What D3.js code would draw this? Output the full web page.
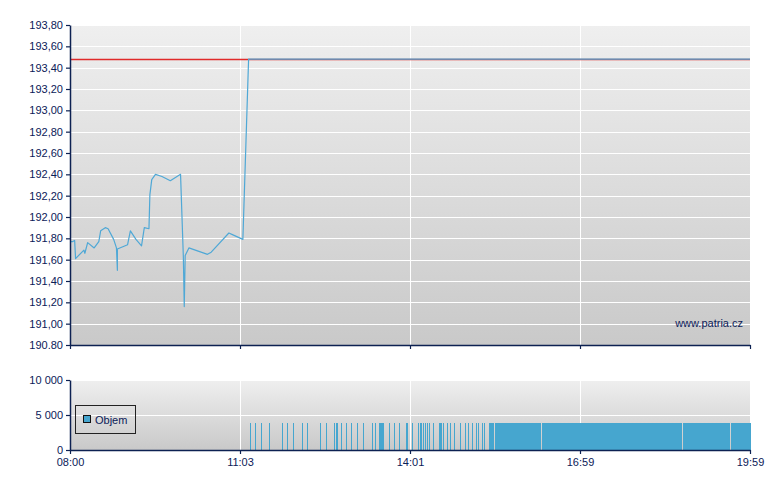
<!DOCTYPE html>
<html><head><meta charset="utf-8">
<script src="https://cdn.jsdelivr.net/npm/d3@7"></script>
<style>
body{margin:0;background:#fff}
svg{display:block}
text{font-family:"Liberation Sans",Arial,sans-serif;font-size:11px;fill:#0b2058}
</style>
</head><body><svg id="c" width="780" height="490"></svg>
<script>
// ---- data ----
const priceTimes = ["08:00","08:03","08:05","08:06","08:15","08:16","08:19","08:26","08:31","08:33","08:38","08:41","08:47","08:50","08:51","08:51","09:02","09:05","09:11","09:17","09:20","09:25","09:26","09:28","09:32","09:39","09:48","09:59","10:02","10:03","10:04","10:08","10:28","10:32","10:51","10:56","11:06","11:12","19:59"];
const priceValues = [191.77,191.77,191.78,191.61,191.69,191.66,191.76,191.71,191.77,191.87,191.90,191.89,191.79,191.71,191.50,191.70,191.74,191.87,191.79,191.73,191.90,191.89,192.21,192.35,192.40,192.38,192.34,192.40,191.63,191.16,191.64,191.71,191.65,191.67,191.85,191.83,191.79,193.48,193.48];
const prevClose = 193.48;

const volFrom = ["11:13","11:19","11:25","11:33","11:47","11:52","11:59","12:08","12:13","12:27","12:33","12:41","12:44","12:49","12:54","12:59","13:06","13:12","13:21","13:24","13:29","13:39","13:44","13:49","13:57","14:03","14:09","14:11","14:13","14:15","14:17","14:19","14:21","14:25","14:31","14:36","14:40","14:43","14:47","14:53","14:59","15:02","15:06","15:10","15:12","15:16","15:19","15:24","15:30","16:19","18:48","19:39"];
const volTo   = ["11:13","11:19","11:25","11:33","11:47","11:52","11:59","12:08","12:13","12:27","12:33","12:41","12:45","12:49","12:54","12:59","13:06","13:12","13:21","13:24","13:33","13:39","13:44","13:49","13:58","14:03","14:09","14:11","14:13","14:15","14:17","14:19","14:21","14:25","14:33","14:36","14:40","14:43","14:47","14:53","14:59","15:02","15:06","15:10","15:12","15:16","15:19","15:28","16:17","18:46","19:37","19:59"];
const volValues = [3900,3900,3900,3900,3900,3900,3900,3900,3900,3900,3900,3900,3900,3900,3900,3900,3900,3900,3900,3900,3900,3900,3900,3900,3900,3900,3900,3900,3900,3900,3900,3900,3900,3900,3900,3900,3900,3900,3900,3900,3900,3900,3900,3900,3900,3900,3900,3900,3900,3900,3900,3900];

const timeTicks = ["08:00","11:03","14:01","16:59","19:59"];
const priceTicks = [190.8,191.0,191.2,191.4,191.6,191.8,192.0,192.2,192.4,192.6,192.8,193.0,193.2,193.4,193.6,193.8];
const priceTickLabels = ["190.80","191,00","191,20","191,40","191,60","191,80","192,00","192,20","192,40","192,60","192,80","193,00","193,20","193,40","193,60","193,80"];
const volTicks = [0,5000,10000];
const volTickLabels = ["0","5 000","10 000"];
const legendLabel = "Objem";
const watermark = "www.patria.cz";

// ---- helpers ----
const toMin = s => { const [h,m] = s.split(":").map(Number); return h*60+m; };
const svg = d3.select("#c");
const L = 70, R = 750;
const pTop = 25, pBot = 345, vTop = 380, vBot = 450;
const navy = "#0d2152";

const x = d3.scaleLinear().domain(timeTicks.map(toMin)).range([L, 240, 410, 580, R]);
const y = d3.scaleLinear().domain([190.8, 193.8]).range([pBot, pTop]);
const yv = d3.scaleLinear().domain([0, 10000]).range([vBot, vTop]);

const defs = svg.append("defs");
const g = defs.append("linearGradient").attr("id","bg").attr("x1",0).attr("y1",0).attr("x2",0).attr("y2",1);
g.append("stop").attr("offset","0%").attr("stop-color","#efefef");
g.append("stop").attr("offset","100%").attr("stop-color","#c9c9c9");

// backgrounds
svg.append("rect").attr("x",L).attr("y",pTop).attr("width",R-L).attr("height",pBot-pTop).attr("fill","url(#bg)");
svg.append("rect").attr("x",L).attr("y",vTop).attr("width",R-L).attr("height",vBot-vTop).attr("fill","url(#bg)");

// grids
const grid = svg.append("g").attr("stroke","#ffffff").attr("stroke-width",1);
priceTicks.slice(1).forEach(v => grid.append("line").attr("x1",L).attr("x2",R).attr("y1",Math.round(y(v))+0.5).attr("y2",Math.round(y(v))+0.5));
volTicks.slice(1).forEach(v => grid.append("line").attr("x1",L).attr("x2",R).attr("y1",Math.round(yv(v))+0.5).attr("y2",Math.round(yv(v))+0.5));
timeTicks.slice(1).forEach(t => {
  const xx = Math.round(x(toMin(t)))+0.5;
  grid.append("line").attr("x1",xx).attr("x2",xx).attr("y1",pTop).attr("y2",pBot);
  grid.append("line").attr("x1",xx).attr("x2",xx).attr("y1",vTop).attr("y2",vBot);
});

// watermark
svg.append("text").attr("x",743).attr("y",327).attr("text-anchor","end").text(watermark);

// previous close
svg.append("line").attr("x1",L+1).attr("x2",R).attr("y1",Math.round(y(prevClose))+0.5).attr("y2",Math.round(y(prevClose))+0.5)
  .attr("stroke","#e02a2a").attr("stroke-width",1.4);

// price line
const pdata = priceTimes.map((t,i)=>({t:toMin(t), v:priceValues[i]}));
svg.append("path").datum(pdata)
  .attr("fill","none").attr("stroke","#4fa8d6").attr("stroke-width",1.2).attr("stroke-linejoin","round")
  .attr("d", d3.line().x(d=>x(d.t)).y(d=>y(d.v)));

// volume bars
const vdata = volFrom.map((f,i)=>({a:toMin(f), b:toMin(volTo[i]), v:volValues[i]}));
svg.append("g").selectAll("rect").data(vdata).join("rect")
  .attr("x", d => Math.round(x(d.a)))
  .attr("width", d => Math.max(1, Math.round(x(d.b)) - Math.round(x(d.a)) + 1))
  .attr("y", d => Math.round(yv(d.v)))
  .attr("height", d => vBot - Math.round(yv(d.v)))
  .attr("fill","#46a6cf").attr("shape-rendering","crispEdges");

// axes
function styleAxis(sel){
  sel.selectAll(".domain").attr("stroke",navy).attr("stroke-width",1.5);
  sel.selectAll(".tick line").attr("stroke",navy).attr("stroke-width",1.2);
  sel.selectAll("text").attr("fill","#0b2058").style("font-family",'"Liberation Sans",Arial,sans-serif').style("font-size","11px");
}
svg.append("g").attr("transform",`translate(${L},0)`)
  .call(d3.axisLeft(y).tickValues(priceTicks).tickFormat((d,i)=>priceTickLabels[i]).tickSize(4).tickSizeOuter(0).tickPadding(3))
  .call(styleAxis);
svg.append("g").attr("transform",`translate(0,${pBot})`)
  .call(d3.axisBottom(x).tickValues(timeTicks.map(toMin)).tickFormat("").tickSize(4).tickSizeOuter(0))
  .call(styleAxis);
svg.append("g").attr("transform",`translate(${L},0)`)
  .call(d3.axisLeft(yv).tickValues(volTicks).tickFormat((d,i)=>volTickLabels[i]).tickSize(4).tickSizeOuter(0).tickPadding(3))
  .call(styleAxis);
svg.append("g").attr("transform",`translate(0,${vBot})`)
  .call(d3.axisBottom(x).tickValues(timeTicks.map(toMin)).tickFormat((d,i)=>timeTicks[i]).tickSize(4).tickSizeOuter(0).tickPadding(4))
  .call(styleAxis);

// legend
const lg = svg.append("g");
lg.append("rect").attr("x",75.5).attr("y",405.5).attr("width",60).attr("height",28).attr("fill","none").attr("stroke","#222").attr("stroke-width",1);
lg.append("rect").attr("x",83.5).attr("y",415.5).attr("width",7).attr("height",7).attr("fill","#46a6cf").attr("stroke","#111");
lg.append("text").attr("x",95).attr("y",424).attr("fill","#111").text(legendLabel);
</script>
</body></html>
